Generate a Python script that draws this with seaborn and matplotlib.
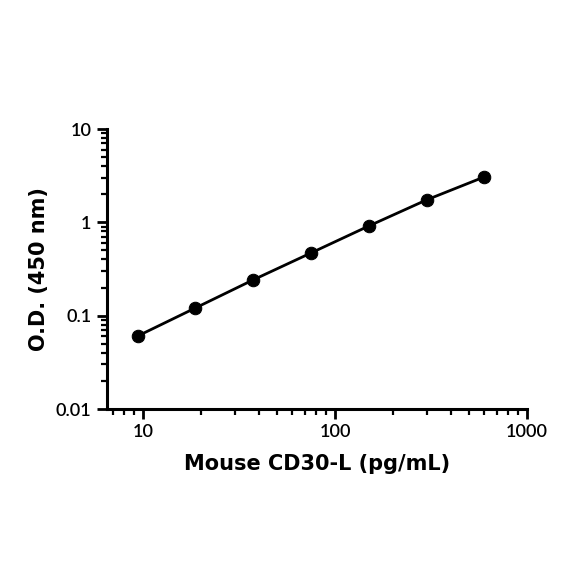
import matplotlib
matplotlib.use("Agg")
import matplotlib.pyplot as plt
import seaborn as sns
import pandas as pd
from matplotlib.ticker import LogLocator, FixedLocator, FixedFormatter, NullFormatter

conc = [9.375, 18.75, 37.5, 75, 150, 300, 600]
od = [0.0605, 0.121, 0.242, 0.47, 0.914, 1.74, 3.07]
xticks = [10, 100, 1000]
xticklabels = ["10", "100", "1000"]
yticks = [0.01, 0.1, 1, 10]
yticklabels = ["0.01", "0.1", "1", "10"]

df = pd.DataFrame({"conc": conc, "od": od})

sns.set_style("ticks")
plt.rcParams["font.family"] = ["Lato", "DejaVu Sans"]
plt.rcParams["text.color"] = "black"
plt.rcParams["axes.labelcolor"] = "black"

fig = plt.figure(figsize=(5.84, 5.84), dpi=100)
ax = fig.add_axes([107/584, 1-409/584, (527-107)/584, (409-129)/584])

sns.lineplot(data=df, x="conc", y="od", ax=ax, color="black", linewidth=2,
             marker="o", markersize=9, markeredgecolor="black", markerfacecolor="black")

ax.set_xscale("log")
ax.set_yscale("log")
ax.set_xlim(6.49, 1000)
ax.set_ylim(0.01, 10)

ax.xaxis.set_major_locator(FixedLocator(xticks))
ax.xaxis.set_major_formatter(FixedFormatter(xticklabels))
ax.yaxis.set_major_locator(FixedLocator(yticks))
ax.yaxis.set_major_formatter(FixedFormatter(yticklabels))
ax.xaxis.set_minor_locator(LogLocator(base=10, subs=range(2, 10), numticks=20))
ax.yaxis.set_minor_locator(LogLocator(base=10, subs=range(2, 10), numticks=20))
ax.xaxis.set_minor_formatter(NullFormatter())
ax.yaxis.set_minor_formatter(NullFormatter())

for s in ["top", "right"]:
    ax.spines[s].set_visible(False)
for s in ["left", "bottom"]:
    ax.spines[s].set_linewidth(2.2)
    ax.spines[s].set_color("black")

ax.tick_params(which="major", length=7, width=2, direction="out", labelsize=13,
               colors="black", labelcolor="black", pad=4)
ax.tick_params(which="minor", length=4, width=1.6, direction="out", colors="black")
for lab in ax.get_xticklabels() + ax.get_yticklabels():
    lab.set_fontweight("semibold")

ax.set_xlabel("Mouse CD30-L (pg/mL)", fontsize=15, fontweight="bold", labelpad=10,
              family=["DejaVu Sans"], color="black")
ax.set_ylabel("O.D. (450 nm)", fontsize=15, fontweight="bold", labelpad=5,
              family=["DejaVu Sans"], color="black")

fig.savefig("out.png", dpi=100, facecolor="white")
